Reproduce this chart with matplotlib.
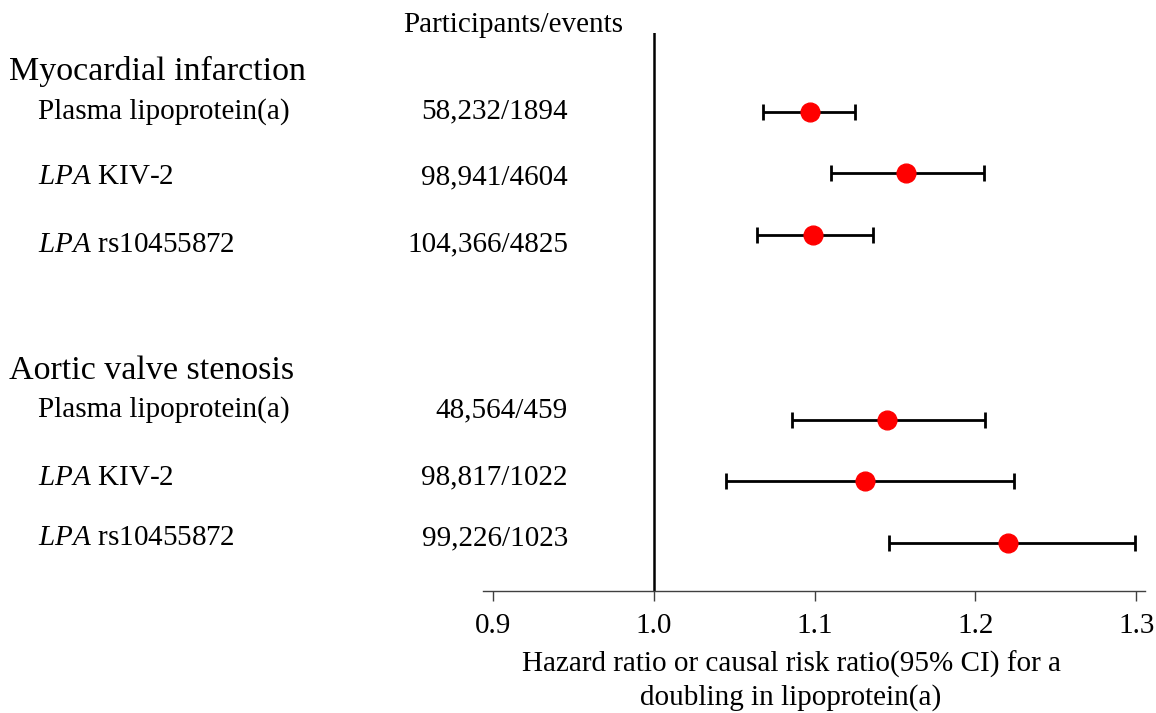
import matplotlib
matplotlib.use("Agg")
import matplotlib.pyplot as plt
import matplotlib.transforms as mtransforms

plt.rcParams['font.family'] = ['Liberation Serif', 'DejaVu Serif']
plt.rcParams['mathtext.fontset'] = 'custom'
plt.rcParams['mathtext.rm'] = 'Liberation Serif'
plt.rcParams['mathtext.it'] = 'Liberation Serif:italic'

# ---- data ----
groups = ["Myocardial infarction", "Aortic valve stenosis"]
labels = ["Plasma lipoprotein(a)", "$\\it{LPA}$ KIV-2", "$\\it{LPA}$ rs10455872",
          "Plasma lipoprotein(a)", "$\\it{LPA}$ KIV-2", "$\\it{LPA}$ rs10455872"]
counts = ["58,232/1894", "98,941/4604", "104,366/4825",
          "48,564/459", "98,817/1022", "99,226/1023"]
estimate = [1.097, 1.157, 1.099, 1.145, 1.131, 1.220]
lower = [1.068, 1.110, 1.064, 1.086, 1.045, 1.146]
upper = [1.125, 1.205, 1.136, 1.206, 1.224, 1.299]
rows = [0, 1, 2, 5, 6, 7]
label_rows = [0, 1.06, 2.16, 4.84, 5.94, 6.92]
group_rows = [-0.52, 4.33]
xticks = [0.9, 1.0, 1.1, 1.2, 1.3]
xticklabels = ["0.9", "1.0", "1.1", "1.2", "1.3"]

W, H = 1156, 713
fig = plt.figure(figsize=(W / 100, H / 100), dpi=100)
ax = fig.add_axes([483 / W, 1 - 591 / H, (1145 - 483) / W, (591 - 33) / H])

err_lo = [e - l for e, l in zip(estimate, lower)]
err_hi = [u - e for e, u in zip(estimate, upper)]
ax.errorbar(estimate, rows, xerr=[err_lo, err_hi], fmt='none', ecolor='black',
            elinewidth=2.0, capsize=5.5, capthick=2.0, zorder=2)
ax.plot(estimate, rows, 'o', color='#ff0000', markersize=13.5, zorder=3)

ax.axvline(1.0, color='black', linewidth=1.8, zorder=1)

ax.set_xlim(0.8935, 1.3055)
ax.set_ylim(7.78, -1.28)
ax.set_yticks([])
for s in ['top', 'right', 'left']:
    ax.spines[s].set_visible(False)
ax.spines['bottom'].set_color('#404040')
ax.spines['bottom'].set_linewidth(1.0)
ax.set_xticks(xticks)
ax.set_xticklabels(xticklabels, fontsize=21)
ax.tick_params(axis='x', length=7, width=1.0, color='#404040', pad=9)

trans = mtransforms.blended_transform_factory(fig.transFigure, ax.transData)
for g, r in zip(groups, group_rows):
    ax.text(9 / W, r, g, transform=trans, fontsize=24.5, va='baseline', ha='left', clip_on=False)
for lab, cnt, r in zip(labels, counts, label_rows):
    ax.text(38 / W, r, lab, transform=trans, fontsize=21, va='center', ha='left', clip_on=False)
    ax.text(568 / W, r, cnt, transform=trans, fontsize=21, va='center', ha='right', clip_on=False)

fig.text(513 / W, 1 - 32 / H, "Participants/events", fontsize=21, va='baseline', ha='center')
fig.text(791 / W, 1 - 672 / H, "Hazard ratio or causal risk ratio(95% CI) for a",
         fontsize=21, va='baseline', ha='center')
fig.text(791 / W, 1 - 705 / H, "doubling in lipoprotein(a)",
         fontsize=21, va='baseline', ha='center')

fig.savefig("out.png", dpi=100)
